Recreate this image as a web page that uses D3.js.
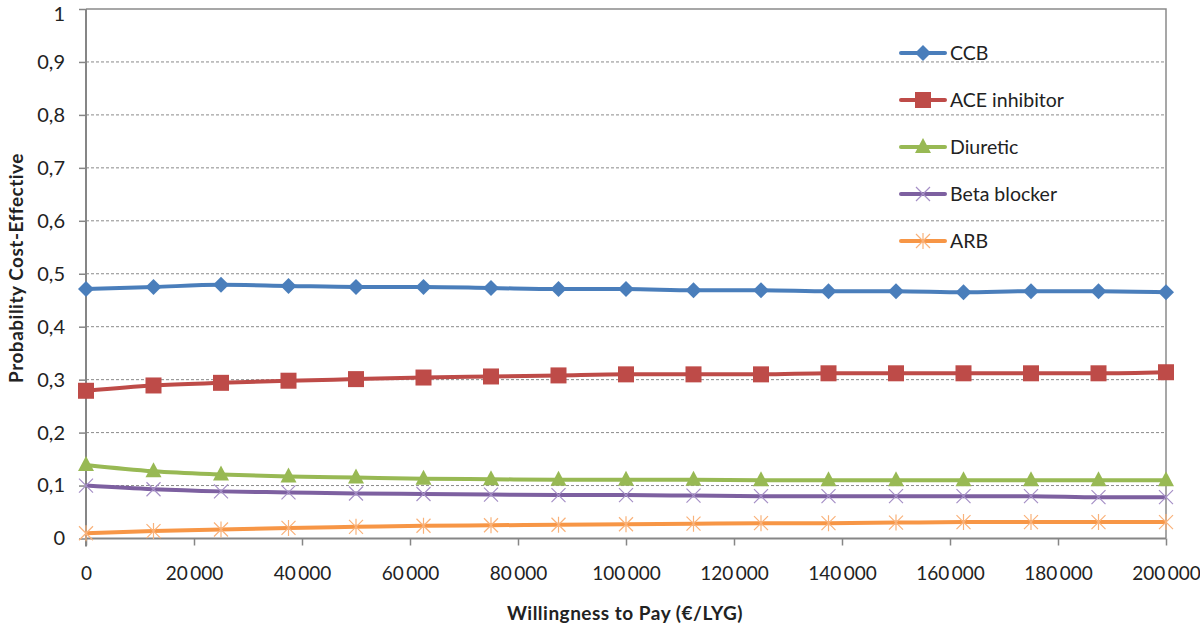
<!DOCTYPE html>
<html><head><meta charset="utf-8">
<script src="https://cdn.jsdelivr.net/npm/d3@7"></script>
<style>body{margin:0;background:#fff}svg{display:block}text{font-family:Lato,"Open Sans",sans-serif}</style>
</head><body><svg id="c" width="1200" height="629"></svg>
<script>
const wtp = [0,12500,25000,37500,50000,62500,75000,87500,100000,112500,125000,137500,150000,162500,175000,187500,200000];
const ccb = [0.471,0.475,0.479,0.477,0.475,0.475,0.473,0.471,0.471,0.469,0.469,0.467,0.467,0.465,0.467,0.467,0.465];
const ace = [0.279,0.289,0.294,0.298,0.301,0.304,0.306,0.308,0.310,0.310,0.310,0.312,0.312,0.312,0.312,0.312,0.314];
const diuretic = [0.139,0.127,0.121,0.117,0.115,0.113,0.112,0.111,0.111,0.111,0.110,0.110,0.110,0.110,0.110,0.110,0.110];
const beta = [0.100,0.093,0.089,0.087,0.085,0.084,0.083,0.082,0.082,0.081,0.080,0.080,0.080,0.080,0.080,0.078,0.078];
const arb = [0.010,0.014,0.017,0.020,0.022,0.024,0.025,0.026,0.027,0.028,0.029,0.029,0.030,0.031,0.031,0.031,0.031];
const seriesNames = ["CCB","ACE inhibitor","Diuretic","Beta blocker","ARB"];
const xTicks = [0,20000,40000,60000,80000,100000,120000,140000,160000,180000,200000];
const xTickLabels = ["0","20\u2009000","40\u2009000","60\u2009000","80\u2009000","100\u2009000","120\u2009000","140\u2009000","160\u2009000","180\u2009000","200\u2009000"];
const yTicks = [0,0.1,0.2,0.3,0.4,0.5,0.6,0.7,0.8,0.9,1];
const yTickLabels = ["0","0,1","0,2","0,3","0,4","0,5","0,6","0,7","0,8","0,9","1"];

const series = [
  {name:seriesNames[0], vals:ccb, color:"#4A7EBB", mcolor:"#4A7EBB", marker:"diamond"},
  {name:seriesNames[1], vals:ace, color:"#BE4B48", mcolor:"#BE4B48", marker:"square"},
  {name:seriesNames[2], vals:diuretic, color:"#98B954", mcolor:"#98B954", marker:"triangle"},
  {name:seriesNames[3], vals:beta, color:"#7D60A0", mcolor:"#A58FC6", marker:"x"},
  {name:seriesNames[4], vals:arb, color:"#F79646", mcolor:"#F9B27A", marker:"star"}
];

const svg = d3.select("#c");
const L=86, R=1166, T=9, B=538.5;
const x = d3.scaleLinear().domain([0,200000]).range([L,R]);
const y = d3.scaleLinear().domain([0,1]).range([B,T]);

// gridlines
svg.append("g").selectAll("line").data(yTicks.filter(v=>v>0 && v<1)).join("line")
  .attr("x1",L).attr("x2",R).attr("y1",d=>y(d)).attr("y2",d=>y(d))
  .attr("stroke","#8a8a8a").attr("stroke-width",1).attr("stroke-dasharray","3,2");
// plot border (top & right)
svg.append("path").attr("d",`M${L},${T}H${R}V${B}`).attr("fill","none").attr("stroke","#8a8a8a").attr("stroke-width",1.5);

// y axis
const yAxis = d3.axisLeft(y).tickValues(yTicks).tickFormat((d,i)=>yTickLabels[i]).tickSize(7).tickPadding(14);
const gy = svg.append("g").attr("transform",`translate(${L},0)`).call(yAxis);
gy.select(".domain").attr("stroke","#868686").attr("stroke-width",2).attr("d",`M0,${T}V${B+8}`);
gy.selectAll(".tick line").attr("stroke","#868686").attr("stroke-width",1.5);
gy.selectAll(".tick text").attr("font-size",20).attr("fill","#222").style("font-family","Lato,sans-serif");
gy.selectAll(".tick text").filter(d=>d===1).attr("dy","0.55em");

// x axis
const xAxis = d3.axisBottom(x).tickValues(xTicks).tickFormat((d,i)=>xTickLabels[i]).tickSize(7).tickPadding(21);
const gx = svg.append("g").attr("transform",`translate(0,${B})`).call(xAxis);
gx.select(".domain").attr("stroke","#868686").attr("stroke-width",2).attr("d",`M${L},0H${R}`);
gx.selectAll(".tick line").attr("stroke","#868686").attr("stroke-width",1.5);
gx.selectAll(".tick text").attr("font-size",19).attr("fill","#222").style("font-family","Lato,sans-serif");

// titles
svg.append("text").attr("x",625).attr("y",620).attr("text-anchor","middle").attr("font-size",19).attr("letter-spacing",0.5).attr("font-weight","bold").attr("fill","#222").text("Willingness to Pay (€/LYG)");
svg.append("text").attr("transform","translate(23,268) rotate(-90)").attr("text-anchor","middle").attr("font-size",19).attr("letter-spacing",0.5).attr("font-weight","bold").attr("fill","#222").text("Probability Cost-Effective");

function drawMarker(g, type, cx, cy, color){
  if(type==="diamond"){
    g.append("path").attr("d",`M${cx},${cy-8}L${cx+8},${cy}L${cx},${cy+8}L${cx-8},${cy}Z`).attr("fill",color);
  } else if(type==="square"){
    g.append("rect").attr("x",cx-8).attr("y",cy-8).attr("width",16).attr("height",16).attr("fill",color);
  } else if(type==="triangle"){
    g.append("path").attr("d",`M${cx},${cy-9}L${cx+8},${cy+6}L${cx-8},${cy+6}Z`).attr("fill",color);
  } else if(type==="x"){
    g.append("path").attr("d",`M${cx-7},${cy-7}L${cx+7},${cy+7}M${cx+7},${cy-7}L${cx-7},${cy+7}`).attr("stroke",color).attr("stroke-width",1.2);
  } else if(type==="star"){
    g.append("path").attr("d",`M${cx-7},${cy-7}L${cx+7},${cy+7}M${cx+7},${cy-7}L${cx-7},${cy+7}M${cx},${cy-8}V${cy+8}`).attr("stroke",color).attr("stroke-width",1.2);
  }
}

const line = d3.line().x((d,i)=>x(wtp[i])).y(d=>y(d)).curve(d3.curveMonotoneX);
series.forEach(s=>{
  const g = svg.append("g");
  g.append("path").datum(s.vals).attr("d",line).attr("fill","none").attr("stroke",s.color).attr("stroke-width",4).attr("stroke-linejoin","round");
  s.vals.forEach((v,i)=>drawMarker(g,s.marker,x(wtp[i]),y(v),s.mcolor));
});

// legend
const legY = [53,100,147,194,241];
series.forEach((s,i)=>{
  const g = svg.append("g");
  g.append("line").attr("x1",901).attr("x2",945).attr("y1",legY[i]).attr("y2",legY[i]).attr("stroke",s.color).attr("stroke-width",4).attr("stroke-linecap","round");
  drawMarker(g,s.marker,923,legY[i],s.mcolor);
  g.append("text").attr("x",950).attr("y",legY[i]+7).attr("font-size",19.5).attr("fill","#222").text(s.name);
});
</script></body></html>
